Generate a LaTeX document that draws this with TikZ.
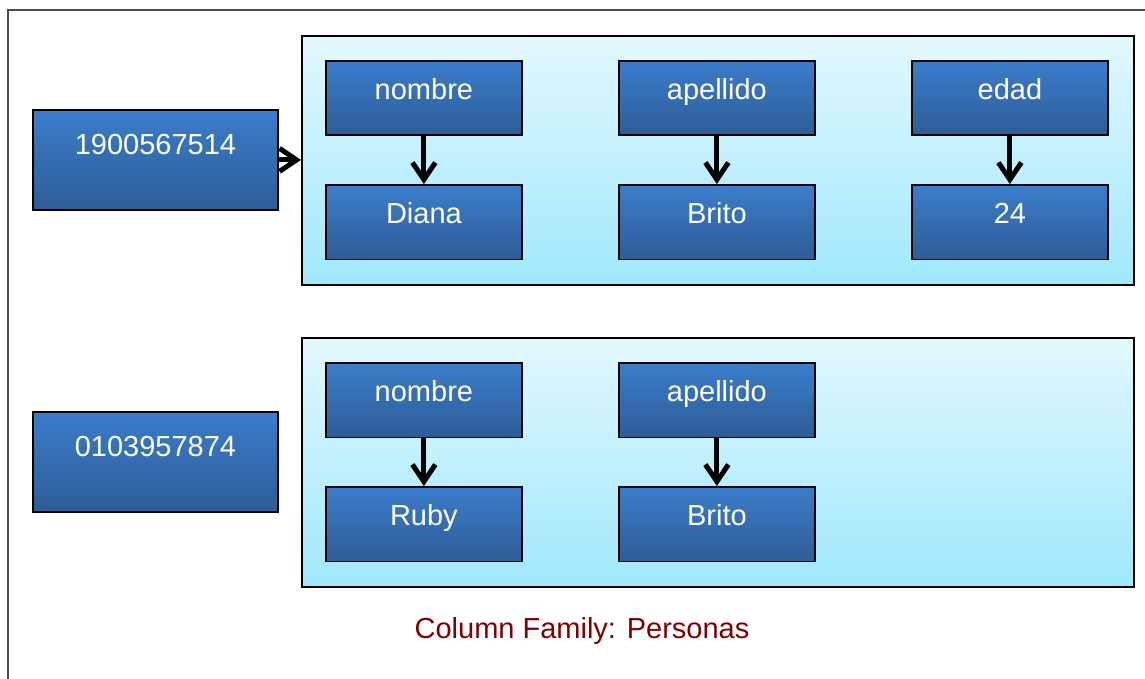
\documentclass[tikz,border=0pt]{standalone}
\usepackage{fontspec}
\setmainfont{Liberation Sans}
\usetikzlibrary{arrows.meta}
\definecolor{celltop}{RGB}{59,125,203}
\definecolor{cellbot}{RGB}{46,92,150}
\definecolor{paneltop}{RGB}{226,248,254}
\definecolor{panelbot}{RGB}{160,232,252}
\definecolor{framegrey}{RGB}{75,75,75}
\definecolor{captionred}{RGB}{128,0,0}
\begin{document}
\begin{tikzpicture}[x=1pt,y=-1pt,
  frame/.style={draw=framegrey,line width=2.2pt},
  panel/.style={draw=black,line width=2pt,top color=paneltop,bottom color=panelbot,
    inner sep=0pt,minimum width=832pt,minimum height=249pt,anchor=north west},
  boxbase/.style={draw=black,line width=1.8pt,top color=celltop,bottom color=cellbot,
    text=white,font=\fontsize{29}{34}\selectfont,inner sep=0pt,anchor=north west},
  cell/.style={boxbase,minimum width=196pt,text height=38.5pt,text depth=36pt},
  keybox/.style={boxbase,minimum width=245pt,text height=45pt,text depth=55pt},
  link/.style={line width=5pt,-{Straight Barb[length=17pt,width=23pt,line width=5pt]}},
  caption/.style={text=captionred,font=\fontsize{29}{34}\selectfont,inner sep=0pt}]
\useasboundingbox (0,0) rectangle (1145,679);
% outer frame, open to the right and bottom
\draw[frame] (8,690) -- (8,10) -- (1160,10);

% row keys
\node[keybox] (k1) at (32,109) {1900567514};
\node[keybox] (k2) at (32,411) {0103957874};

% column panels
\node[panel] (g1) at (301,35) {};
\node[panel] (g2) at (301,337) {};

% first row: column names and values
\node[cell] (n1) at (325,60) {nombre};
\node[cell] (a1) at (618,60) {apellido};
\node[cell] (e1) at (911,60) {edad};
\node[cell] (v1) at (325,184) {Diana};
\node[cell] (w1) at (618,184) {Brito};
\node[cell] (x1) at (911,184) {24};

% second row: column names and values
\node[cell] (n2) at (325,362) {nombre};
\node[cell] (a2) at (618,362) {apellido};
\node[cell] (v2) at (325,486) {Ruby};
\node[cell] (w2) at (618,486) {Brito};

% connectors
\draw[link] (k1.east) -- (k1.east -| g1.west);
\draw[link] (n1.south) -- (v1.north);
\draw[link] (a1.south) -- (w1.north);
\draw[link] (e1.south) -- (x1.north);
\draw[link] (n2.south) -- (v2.north);
\draw[link] (a2.south) -- (w2.north);

\node[caption,anchor=base] (cap) at (582,638) {Column Family: Personas};
\end{tikzpicture}
\end{document}
